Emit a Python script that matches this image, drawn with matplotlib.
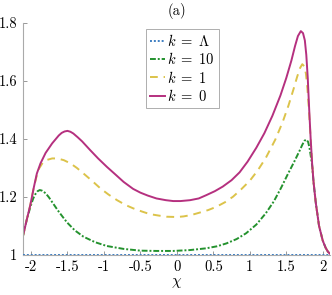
import matplotlib
matplotlib.use("Agg")
import matplotlib.pyplot as plt

plt.rcParams['font.family'] = 'serif'
plt.rcParams['font.serif'] = ['cmr10']
plt.rcParams['mathtext.fontset'] = 'cm'
plt.rcParams['axes.unicode_minus'] = False
plt.rcParams['axes.formatter.use_mathtext'] = False

# k = 0 (solid)
chi_k0 = [-2.11, -2.06, -2.01, -1.96, -1.92, -1.87, -1.80, -1.71, -1.62, -1.58, -1.54, -1.50,
          -1.46, -1.42, -1.36, -1.30, -1.19, -1.08, -0.96, -0.84, -0.73, -0.60, -0.50, -0.40,
          -0.28, -0.15, -0.05, 0.05, 0.18, 0.30, 0.40, 0.52, 0.63, 0.75, 0.86, 0.97, 1.09,
          1.20, 1.31, 1.42, 1.50, 1.57, 1.62, 1.66, 1.70, 1.73, 1.755, 1.775, 1.795, 1.815,
          1.835, 1.855, 1.875, 1.905, 1.95, 2.00, 2.04, 2.07, 2.10]
val_k0 = [1.066, 1.12, 1.172, 1.235, 1.281, 1.316, 1.352, 1.385, 1.412, 1.421, 1.426, 1.428,
          1.425, 1.419, 1.406, 1.392, 1.362, 1.333, 1.304, 1.277, 1.252, 1.228, 1.215, 1.205,
          1.195, 1.189, 1.186, 1.186, 1.189, 1.195, 1.206, 1.220, 1.236, 1.258, 1.285, 1.322,
          1.370, 1.420, 1.480, 1.550, 1.610, 1.670, 1.720, 1.755, 1.772, 1.765, 1.740, 1.690,
          1.610, 1.500, 1.400, 1.315, 1.250, 1.180, 1.100, 1.050, 1.025, 1.012, 1.004]

# k = 1 (dashed)
chi_k1 = [-2.11, -2.06, -2.01, -1.96, -1.92, -1.89, -1.84, -1.78, -1.71, -1.64, -1.55, -1.46,
          -1.37, -1.28, -1.16, -1.05, -0.94, -0.82, -0.70, -0.60, -0.48, -0.37, -0.25, -0.14,
          0.0, 0.09, 0.20, 0.31, 0.43, 0.54, 0.66, 0.77, 0.88, 1.00, 1.11, 1.22, 1.35, 1.45,
          1.53, 1.60, 1.65, 1.69, 1.72, 1.75, 1.77, 1.79, 1.81, 1.83, 1.855, 1.875, 1.905,
          1.95, 2.00, 2.04, 2.07, 2.10]
val_k1 = [1.066, 1.12, 1.172, 1.235, 1.275, 1.298, 1.318, 1.328, 1.333, 1.333, 1.327, 1.316,
          1.300, 1.281, 1.255, 1.230, 1.209, 1.189, 1.172, 1.161, 1.150, 1.141, 1.136, 1.132,
          1.131, 1.133, 1.138, 1.146, 1.155, 1.166, 1.182, 1.201, 1.226, 1.256, 1.292, 1.335,
          1.398, 1.458, 1.515, 1.572, 1.615, 1.645, 1.658, 1.650, 1.625, 1.575, 1.505, 1.420,
          1.315, 1.250, 1.180, 1.100, 1.050, 1.025, 1.012, 1.004]

# k = 10 (dash-dot)
chi_k10 = [-2.11, -2.06, -2.01, -1.97, -1.94, -1.91, -1.88, -1.85, -1.80, -1.755, -1.69,
           -1.63, -1.57, -1.505, -1.40, -1.28, -1.12, -0.96, -0.73, -0.50, -0.28, -0.05, 0.18,
           0.40, 0.55, 0.68, 0.82, 0.95, 1.09, 1.22, 1.33, 1.43, 1.52, 1.61, 1.68, 1.72,
           1.75, 1.775, 1.80, 1.82, 1.84, 1.855, 1.875, 1.905, 1.95, 2.00, 2.04, 2.07, 2.10]
val_k10 = [1.066, 1.12, 1.165, 1.195, 1.210, 1.220, 1.224, 1.222, 1.213, 1.199, 1.175,
           1.153, 1.133, 1.112, 1.085, 1.063, 1.044, 1.031, 1.021, 1.015, 1.014, 1.014, 1.017,
           1.023, 1.030, 1.040, 1.055, 1.075, 1.105, 1.144, 1.185, 1.232, 1.278, 1.322, 1.358,
           1.380, 1.394, 1.398, 1.390, 1.368, 1.335, 1.310, 1.250, 1.180, 1.100, 1.050, 1.025,
           1.012, 1.004]

# k = Lambda (dotted)
chi_kL = [-2.11, 2.10]
val_kL = [1.0, 1.0]

x_ticks = [-2, -1.5, -1, -0.5, 0, 0.5, 1, 1.5, 2]
x_ticklabels = ['-2', '-1.5', '-1', '-0.5', '0', '0.5', '1', '1.5', '2']
y_ticks = [1.0, 1.2, 1.4, 1.6, 1.8]
y_ticklabels = ['1', '1.2', '1.4', '1.6', '1.8']

fig = plt.figure(figsize=(3.32, 2.95), dpi=100)
ax = fig.add_axes([23/332, 40/295, 307/332, 232/295])

c_blue = '#3f7fc2'
c_green = '#24922e'
c_yellow = '#dcc34a'
c_mag = '#b5307f'

ax.plot(chi_kL, val_kL, color=c_blue, lw=1.4, ls=(0, (1, 1)), label=r'$k\;=\;\Lambda$', zorder=5)
ax.plot(chi_k10, val_k10, color=c_green, lw=1.4, ls=(0, (3, 1, 1, 1)), label=r'$k\;=\;10$')
ax.plot(chi_k1, val_k1, color=c_yellow, lw=1.4, ls=(0, (4, 3)), label=r'$k\;=\;1$')
ax.plot(chi_k0, val_k0, color=c_mag, lw=1.4, ls='-', label=r'$k\;=\;0$')

ax.set_xlim(-2.11, 2.1)
ax.set_ylim(1.0, 1.8)
ax.set_xticks(x_ticks)
ax.set_xticklabels(x_ticklabels)
ax.set_yticks(y_ticks)
ax.set_yticklabels(y_ticklabels)
ax.tick_params(direction='in', length=3, width=0.6, color='#888888', labelsize=10.5, pad=4)
for s in ['top', 'right']:
    ax.spines[s].set_visible(False)
for s in ['left', 'bottom']:
    ax.spines[s].set_color('#aaaaaa')
    ax.spines[s].set_linewidth(0.8)

ax.set_xlabel(r'$\chi$', fontsize=11, labelpad=1)
ax.set_title('(a)', fontsize=10.5, pad=6)

leg = ax.legend(loc='upper left', bbox_to_anchor=(0.40, 0.975), fontsize=10.5,
                handlelength=1.0, handletextpad=0.15, borderpad=0.3, labelspacing=0.15,
                frameon=True, fancybox=False, edgecolor='#999999', borderaxespad=0)
leg.get_frame().set_linewidth(0.7)

fig.savefig('out.png', dpi=100)
